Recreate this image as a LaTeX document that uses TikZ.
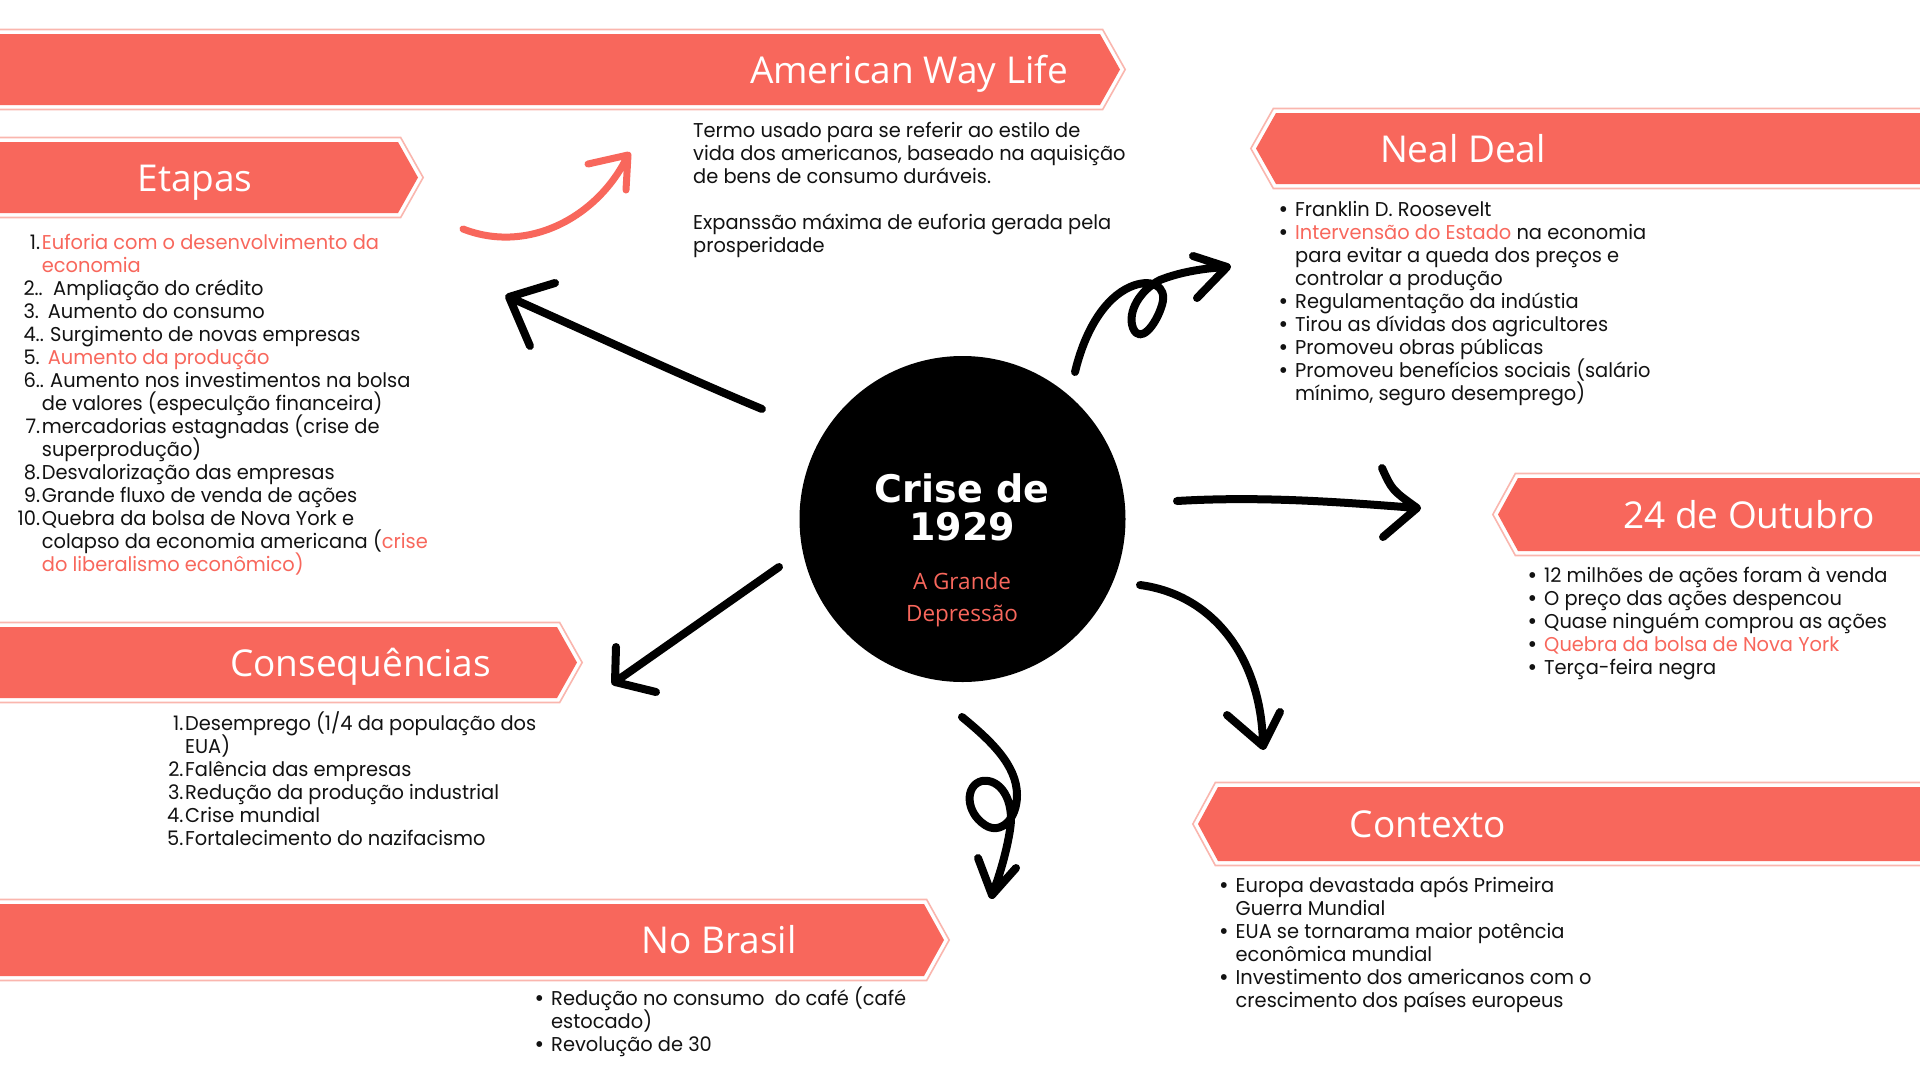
\documentclass[tikz,border=0pt]{standalone}
\usepackage{fontspec}
\setmainfont{Poppins}[FakeStretch=0.97]
\newfontfamily\headfont{Open Sans}
\newfontfamily\titlefont{DejaVu Sans}

\definecolor{coral}{RGB}{248,103,92}
\definecolor{coraledge}{RGB}{250,182,174}
\definecolor{ink}{RGB}{18,18,18}

% highlighted words, list numbers and bullets
\newcommand\hl[1]{\textcolor{coral}{#1}}
\newcommand\nb[1]{\makebox[30pt][r]{#1\hspace{1.7pt}}}
\newcommand\bu{\makebox[16pt][l]{\hspace{-0.5pt}\raisebox{-1pt}{\fontsize{24}{24}\selectfont\textbullet}}}
\newcommand\nobu{\makebox[16pt][l]{}}
\newcommand\lead[3]{\hspace{11.6pt}\makebox[#1][l]{#2}#3}
% a block of lines set on a fixed 23pt grid
\newcommand\lst[1]{\vtop{\lineskiplimit=-\maxdimen\lineskip=0pt\relax#1}}
\newcommand\li[1]{\hbox{#1}}

% banner pointing right, from the left edge: top, bottom, end of the straight part
\newcommand\rbanner[3]{%
  \fill[bannerfill] (-2,#1) -- (#3,#1) -- ({#3+20},{(#1+#2)/2}) -- (#3,#2) -- (-2,#2) -- cycle;
  \draw[banneredge] (-2,{#1-4.5}) -- ({#3+2.65},{#1-4.5}) -- ({#3+25.15},{(#1+#2)/2})
        -- ({#3+2.65},{#2+4.5}) -- (-2,{#2+4.5});}
% banner pointing left, to the right edge: top, bottom, start of the straight part
\newcommand\lbanner[3]{%
  \fill[bannerfill] (1922,#1) -- (#3,#1) -- ({#3-20},{(#1+#2)/2}) -- (#3,#2) -- (1922,#2) -- cycle;
  \draw[banneredge] (1922,{#1-4.5}) -- ({#3-2.65},{#1-4.5}) -- ({#3-25.15},{(#1+#2)/2})
        -- ({#3-2.65},{#2+4.5}) -- (1922,{#2+4.5});}

\tikzset{
  bannerfill/.style={fill=coral},
  banneredge/.style={draw=coraledge, line width=1.6pt},
  bannertext/.style={font=\headfont\fontsize{37}{40}\selectfont, text=white, inner sep=0pt, anchor=base},
  bodytext/.style={font=\fontsize{20}{23}\selectfont, text=ink, inner sep=0pt, anchor=base west},
  brush/.style={draw=black, line width=8pt, line cap=round, line join=round},
}

\begin{document}
\begin{tikzpicture}[x=1pt,y=-1pt]
\useasboundingbox (0,0) rectangle (1920,1080);
\fill[white] (0,0) rectangle (1920,1080);

% ---- banners ----
\rbanner{34}{105}{1100}
\rbanner{142}{213}{398}
\rbanner{627}{698}{557}
\rbanner{904}{976}{924}
\lbanner{113}{184}{1276}
\lbanner{478}{551}{1518}
\lbanner{787}{861}{1218}

\node[bannertext] (awl) at (909,83.5) {American Way Life};
\node[bannertext] (etapas) at (195,191) {Etapas};
\node[bannertext] (neal) at (1463,162) {Neal Deal};
\node[bannertext] (outubro) at (1749,528) {24 de Outubro};
\node[bannertext] (conseq) at (360.5,676) {Consequências};
\node[bannertext] (contexto) at (1428,837.5) {Contexto};
\node[bannertext] (brasil) at (719,953.5) {No Brasil};

% ---- central disc ----
\node[circle, fill=black, minimum size=326pt, inner sep=0pt] (crise) at (962.5,519) {};
\node[font=\titlefont\bfseries\fontsize{38}{38}\selectfont, text=white, anchor=base, inner sep=0pt] (crise-a) at (962,502) {Crise de};
\node[font=\titlefont\bfseries\fontsize{38}{38}\selectfont, text=white, anchor=base, inner sep=0pt] (crise-b) at (962,540) {1929};
\node[font=\headfont\fontsize{22.5}{32}\selectfont, text=coral, anchor=base, inner sep=0pt] (grande-a) at (962,589) {A Grande};
\node[font=\headfont\fontsize{22.5}{32}\selectfont, text=coral, anchor=base, inner sep=0pt] (grande-b) at (962,621) {Depressão};

% ---- texts ----
\node[bodytext] (awl-text) at (693,137) {\lst{%
\li{Termo usado para se referir ao estilo de}
\li{vida dos americanos, baseado na aquisição}
\li{de bens de consumo duráveis.}
\li{}
\li{Expanssão máxima de euforia gerada pela}
\li{prosperidade}}};

\node[bodytext] (etapas-list) at (11.7,249) {\lst{%
\li{\nb{1.}\hl{Euforia com o desenvolvimento da}}
\li{\nb{}\hl{economia}}
\li{\lead{29.7pt}{2..}{Ampliação do crédito}}
\li{\lead{24.4pt}{3.}{Aumento do consumo}}
\li{\lead{26.7pt}{4..}{Surgimento de novas empresas}}
\li{\lead{24.4pt}{5.}{\hl{Aumento da produção}}}
\li{\lead{26.7pt}{6..}{Aumento nos investimentos na bolsa}}
\li{\nb{}de valores (especulção financeira)}
\li{\nb{7.}mercadorias estagnadas (crise de}
\li{\nb{}superprodução)}
\li{\nb{8.}Desvalorização das empresas}
\li{\nb{9.}Grande fluxo de venda de ações}
\li{\nb{10.}Quebra da bolsa de Nova York e}
\li{\nb{}colapso da economia americana (\hl{crise}}
\li{\nb{}\hl{do liberalismo econômico)}}}};

\node[bodytext] (conseq-list) at (155,730) {\lst{%
\li{\nb{1.}Desemprego (1/4 da população dos}
\li{\nb{}EUA)}
\li{\nb{2.}Falência das empresas}
\li{\nb{3.}Redução da produção industrial}
\li{\nb{4.}Crise mundial}
\li{\nb{5.}Fortalecimento do nazifacismo}}};

\node[bodytext] (neal-list) at (1279,216.5) {\lst{%
\li{\bu Franklin D. Roosevelt}
\li{\bu \hl{Intervensão do Estado} na economia}
\li{\nobu para evitar a queda dos preços e}
\li{\nobu controlar a produção}
\li{\bu Regulamentação da indústia}
\li{\bu Tirou as dívidas dos agricultores}
\li{\bu Promoveu obras públicas}
\li{\bu Promoveu benefícios sociais (salário}
\li{\nobu mínimo, seguro desemprego)}}};

\node[bodytext] (outubro-list) at (1528,582.5) {\lst{%
\li{\bu 12 milhões de ações foram à venda}
\li{\bu O preço das ações despencou}
\li{\bu Quase ninguém comprou as ações}
\li{\bu \hl{Quebra da bolsa de Nova York}}
\li{\bu Terça-feira negra}}};

\node[bodytext] (contexto-list) at (1219.5,892) {\lst{%
\li{\bu Europa devastada após Primeira}
\li{\nobu Guerra Mundial}
\li{\bu EUA se tornarama maior potência}
\li{\nobu econômica mundial}
\li{\bu Investimento dos americanos com o}
\li{\nobu crescimento dos países europeus}}};

\node[bodytext] (brasil-list) at (535,1005) {\lst{%
\li{\bu Redução no consumo\ \ do café (café}
\li{\nobu estocado)}
\li{\bu Revolução de 30}}};

% ---- brush arrows ----
% coral arrow towards the American Way Life text
\coordinate (aw-s) at (463,229);
\coordinate (aw-t) at (628,155);
\coordinate (aw-b1) at (588,164);
\coordinate (aw-b2) at (626,190);
\draw[brush, draw=coral, line width=7pt] (aw-s) .. controls (530,255) and (600,215) .. (aw-t)
  (aw-b1) -- (aw-t) -- (aw-b2);

% towards Etapas
\coordinate (et-s) at (762,409);
\coordinate (et-t) at (509,297);
\coordinate (et-b1) at (555,283);
\coordinate (et-b2) at (530,346);
\draw[brush] (et-s) .. controls (680,375) and (590,333) .. (et-t)
  (et-b1) -- (et-t) -- (et-b2);

% towards Consequencias
\coordinate (co-s) at (779,567);
\coordinate (co-t) at (615,682);
\coordinate (co-b1) at (616,647);
\coordinate (co-b2) at (656,692);
\draw[brush] (co-s) -- (co-t) (co-b1) -- (co-t) -- (co-b2);

% looped arrow towards Neal Deal
\coordinate (nd-s) at (1075,372);
\coordinate (nd-t) at (1227,267);
\coordinate (nd-b1) at (1193,256);
\coordinate (nd-b2) at (1197,298);
\draw[brush] (nd-s) .. controls (1085,330) and (1105,298) .. (1130,287)
  .. controls (1150,278) and (1168,285) .. (1162,305)
  .. controls (1156,325) and (1140,345) .. (1133,328)
  .. controls (1127,312) and (1140,290) .. (1160,280)
  .. controls (1180,272) and (1205,268) .. (nd-t)
  (nd-b1) -- (nd-t) -- (nd-b2);

% towards 24 de Outubro
\coordinate (ou-s) at (1177,501);
\coordinate (ou-t) at (1417,508);
\coordinate (ou-b1) at (1382,468);
\coordinate (ou-b2) at (1383,537);
\draw[brush] (ou-s) .. controls (1260,496) and (1340,502) .. (ou-t)
  (ou-b1) .. controls (1392,490) .. (ou-t) -- (ou-b2);

% towards Contexto
\coordinate (cx-s) at (1140,585);
\coordinate (cx-t) at (1263,746);
\coordinate (cx-b1) at (1227,715);
\coordinate (cx-b2) at (1280,712);
\draw[brush] (cx-s) .. controls (1215,595) and (1262,660) .. (cx-t)
  (cx-b1) -- (cx-t) -- (cx-b2);

% looped arrow towards No Brasil
\coordinate (nb-s) at (962,717);
\coordinate (nb-t) at (992,895);
\coordinate (nb-b1) at (978,858);
\coordinate (nb-b2) at (1016,868);
\draw[brush] (nb-s) .. controls (990,740) and (1017,765) .. (1017,795)
  .. controls (1017,820) and (1000,835) .. (985,825)
  .. controls (965,812) and (965,785) .. (982,781)
  .. controls (1000,778) and (1015,800) .. (1010,830)
  .. controls (1006,855) and (998,880) .. (nb-t)
  (nb-b1) -- (nb-t) -- (nb-b2);
\end{tikzpicture}
\end{document}
